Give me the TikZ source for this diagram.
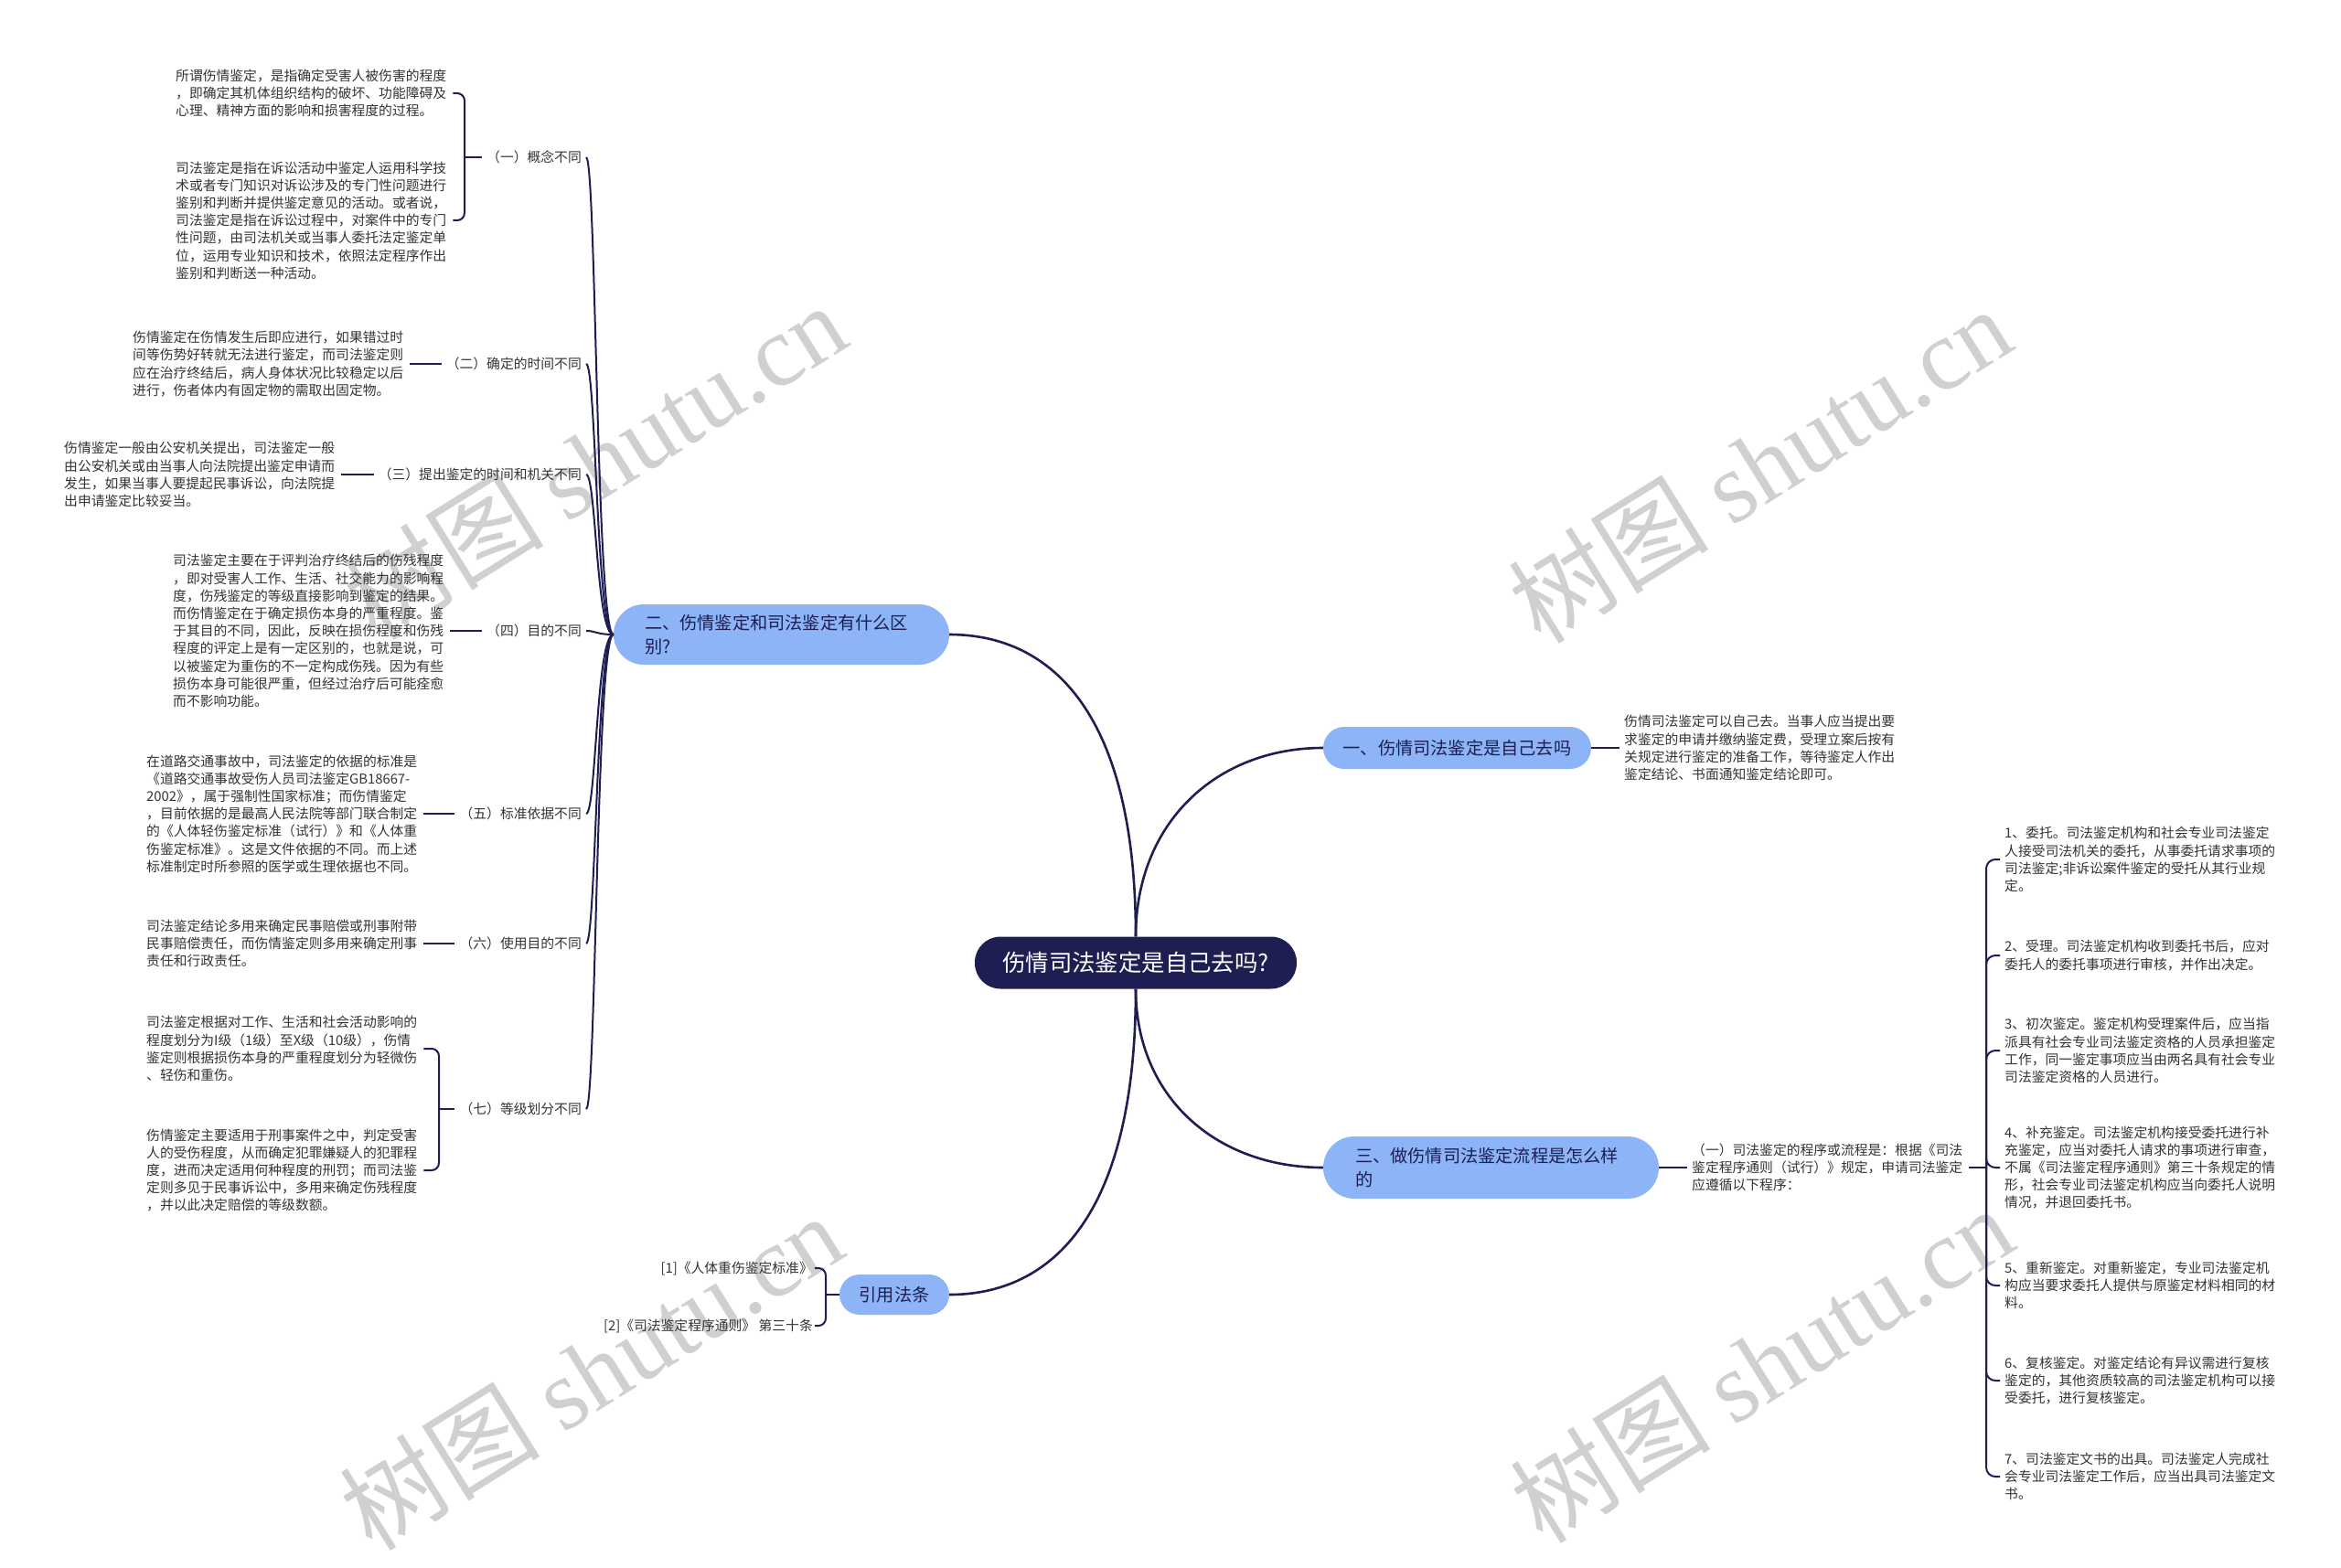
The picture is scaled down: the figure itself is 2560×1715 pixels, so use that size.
\documentclass[tikz,border=0pt]{standalone}
\usepackage{fontspec}
\setmainfont{Noto Sans CJK SC}
\newfontfamily\wmserif{Liberation Serif}
\definecolor{navy}{RGB}{30,30,82}
\definecolor{lblue}{RGB}{140,180,247}
\definecolor{txtgray}{RGB}{51,51,51}
\definecolor{wmgray}{RGB}{208,208,208}
\begin{document}
\begin{tikzpicture}[x=1pt,y=-1pt,
  body/.style={font={\fontsize{14.8}{19.2}\selectfont}, text=txtgray, align=left, text width=298pt, inner xsep=5pt, inner ysep=2pt},
  lab/.style={font={\fontsize{14.8}{19.2}\selectfont}, text=txtgray, inner xsep=5pt, inner ysep=2pt},
  lvone/.style={fill=lblue, text=navy, font={\fontsize{19.2}{26}\selectfont}, inner ysep=2pt},
  rootnode/.style={fill=navy, text=white, rounded corners=28pt, minimum width=352pt, minimum height=57pt, font={\fontsize{25.4}{30}\selectfont}},
  wmark/.style={text=wmgray, font={\fontsize{110}{110}\selectfont}, rotate=32},
  mainedge/.style={draw=navy, line width=2.6pt},
  subedge/.style={draw=navy, line width=2pt}]
\useasboundingbox (0,0) rectangle (2560,1715);
\fill[white] (0,0) rectangle (2560,1715);

% watermarks
\node[wmark] (w1) at (650,504) {树图 {\wmserif shutu.cn}};
\node[wmark] (w2) at (1924,508) {树图 {\wmserif shutu.cn}};
\node[wmark] (w3) at (646,1500) {树图 {\wmserif shutu.cn}};
\node[wmark] (w4) at (1926,1492) {树图 {\wmserif shutu.cn}};

% main nodes
\node[rootnode] (n0) at (1242,1053) {伤情司法鉴定是自己去吗?};
\node[lvone, rounded corners=33pt, minimum width=367pt, minimum height=66pt, text width=299pt, inner xsep=34pt, align=left] (n2) at (854.5,694) {二、伤情鉴定和司法鉴定有什么区\\别?};
\node[lvone, rounded corners=23pt, minimum width=293pt, minimum height=46pt] (n1) at (1593.5,818) {一、伤情司法鉴定是自己去吗};
\node[lvone, rounded corners=34pt, minimum width=367pt, minimum height=68pt, text width=297pt, inner xsep=35pt, align=left] (n3) at (1630.5,1277) {三、做伤情司法鉴定流程是怎么样\\的};
\node[lvone, rounded corners=22pt, minimum width=120pt, minimum height=44pt] (n4) at (978,1416) {引用法条};

% left labels
\node[lab, anchor=east] (L1) at (641,172) {（一）概念不同};
\node[lab, anchor=east] (L2) at (641,398) {（二）确定的时间不同};
\node[lab, anchor=east] (L3) at (641,519) {（三）提出鉴定的时间和机关不同};
\node[lab, anchor=east] (L4) at (641,690) {（四）目的不同};
\node[lab, anchor=east] (L5) at (641,890) {（五）标准依据不同};
\node[lab, anchor=east] (L6) at (641,1032) {（六）使用目的不同};
\node[lab, anchor=east] (L7) at (641,1213) {（七）等级划分不同};

% left texts
\node[body, anchor=west] (d1a) at (187,102) {所谓伤情鉴定，是指确定受害人被伤害的程度\\，即确定其机体组织结构的破坏、功能障碍及\\心理、精神方面的影响和损害程度的过程。};
\node[body, anchor=west] (d1b) at (187,241) {司法鉴定是指在诉讼活动中鉴定人运用科学技\\术或者专门知识对诉讼涉及的专门性问题进行\\鉴别和判断并提供鉴定意见的活动。或者说，\\司法鉴定是指在诉讼过程中，对案件中的专门\\性问题，由司法机关或当事人委托法定鉴定单\\位，运用专业知识和技术，依照法定程序作出\\鉴别和判断送一种活动。};
\node[body, anchor=west] (d2) at (140,398) {伤情鉴定在伤情发生后即应进行，如果错过时\\间等伤势好转就无法进行鉴定，而司法鉴定则\\应在治疗终结后，病人身体状况比较稳定以后\\进行，伤者体内有固定物的需取出固定物。};
\node[body, anchor=west] (d3) at (65,519) {伤情鉴定一般由公安机关提出，司法鉴定一般\\由公安机关或由当事人向法院提出鉴定申请而\\发生，如果当事人要提起民事诉讼，向法院提\\出申请鉴定比较妥当。};
\node[body, anchor=west] (d4) at (184,690) {司法鉴定主要在于评判治疗终结后的伤残程度\\，即对受害人工作、生活、社交能力的影响程\\度，伤残鉴定的等级直接影响到鉴定的结果。\\而伤情鉴定在于确定损伤本身的严重程度。鉴\\于其目的不同，因此，反映在损伤程度和伤残\\程度的评定上是有一定区别的，也就是说，可\\以被鉴定为重伤的不一定构成伤残。因为有些\\损伤本身可能很严重，但经过治疗后可能痊愈\\而不影响功能。};
\node[body, anchor=west] (d5) at (155,890) {在道路交通事故中，司法鉴定的依据的标准是\\《道路交通事故受伤人员司法鉴定GB18667-\\2002》，属于强制性国家标准；而伤情鉴定\\，目前依据的是最高人民法院等部门联合制定\\的《人体轻伤鉴定标准（试行）》和《人体重\\伤鉴定标准》。这是文件依据的不同。而上述\\标准制定时所参照的医学或生理依据也不同。};
\node[body, anchor=west] (d6) at (155,1032) {司法鉴定结论多用来确定民事赔偿或刑事附带\\民事赔偿责任，而伤情鉴定则多用来确定刑事\\责任和行政责任。};
\node[body, anchor=west] (d7a) at (155,1147) {司法鉴定根据对工作、生活和社会活动影响的\\程度划分为I级（1级）至X级（10级），伤情\\鉴定则根据损伤本身的严重程度划分为轻微伤\\、轻伤和重伤。};
\node[body, anchor=west] (d7b) at (155,1280) {伤情鉴定主要适用于刑事案件之中，判定受害\\人的受伤程度，从而确定犯罪嫌疑人的犯罪程\\度，进而决定适用何种程度的刑罚；而司法鉴\\定则多见于民事诉讼中，多用来确定伤残程度\\，并以此决定赔偿的等级数额。};

% right texts
\node[body, anchor=west] (r1) at (1771,818) {伤情司法鉴定可以自己去。当事人应当提出要\\求鉴定的申请并缴纳鉴定费，受理立案后按有\\关规定进行鉴定的准备工作，等待鉴定人作出\\鉴定结论、书面通知鉴定结论即可。};
\node[body, anchor=west] (r3) at (1845,1277) {（一）司法鉴定的程序或流程是：根据《司法\\鉴定程序通则（试行）》规定，申请司法鉴定\\应遵循以下程序：};
\node[body, anchor=west] (s1) at (2187,940) {1、委托。司法鉴定机构和社会专业司法鉴定\\人接受司法机关的委托，从事委托请求事项的\\司法鉴定;非诉讼案件鉴定的受托从其行业规\\定。};
\node[body, anchor=west] (s2) at (2187,1045) {2、受理。司法鉴定机构收到委托书后，应对\\委托人的委托事项进行审核，并作出决定。};
\node[body, anchor=west] (s3) at (2187,1149) {3、初次鉴定。鉴定机构受理案件后，应当指\\派具有社会专业司法鉴定资格的人员承担鉴定\\工作，同一鉴定事项应当由两名具有社会专业\\司法鉴定资格的人员进行。};
\node[body, anchor=west] (s4) at (2187,1277) {4、补充鉴定。司法鉴定机构接受委托进行补\\充鉴定，应当对委托人请求的事项进行审查，\\不属《司法鉴定程序通则》第三十条规定的情\\形，社会专业司法鉴定机构应当向委托人说明\\情况，并退回委托书。};
\node[body, anchor=west] (s5) at (2187,1406) {5、重新鉴定。对重新鉴定，专业司法鉴定机\\构应当要求委托人提供与原鉴定材料相同的材\\料。};
\node[body, anchor=west] (s6) at (2187,1510) {6、复核鉴定。对鉴定结论有异议需进行复核\\鉴定的，其他资质较高的司法鉴定机构可以接\\受委托，进行复核鉴定。};
\node[body, anchor=west] (s7) at (2187,1615) {7、司法鉴定文书的出具。司法鉴定人完成社\\会专业司法鉴定工作后，应当出具司法鉴定文\\书。};

% references
\node[lab, anchor=east, inner xsep=2pt] (c1) at (891,1387) {[1]《人体重伤鉴定标准》};
\node[lab, anchor=east, inner xsep=2pt] (c2) at (891,1450) {[2]《司法鉴定程序通则》 第三十条};

% main edges
\draw[mainedge] (n0.north) .. controls (1242,780) and (1150,694) .. (n2.east);
\draw[mainedge] (n0.north) .. controls (1242,900) and (1330,818) .. (n1.west);
\draw[mainedge] (n0.south) .. controls (1242,1200) and (1330,1277) .. (n3.west);
\draw[mainedge] (n0.south) .. controls (1242,1330) and (1150,1416) .. (n4.east);

% left trunk
\foreach \L/\y in {L1/172, L2/398, L3/519, L4/690, L5/890, L6/1032, L7/1213}
  \draw[subedge] (n2.west) .. controls (652,694) and (652,\y) .. (\L.east);

\draw[subedge] (d2.east) -- (L2.west);
\draw[subedge] (d3.east) -- (L3.west);
\draw[subedge] (d4.east) -- (L4.west);
\draw[subedge] (d5.east) -- (L5.west);
\draw[subedge] (d6.east) -- (L6.west);

\draw[subedge] (L1.west) -- (508,172);
\draw[subedge, rounded corners=8pt] (508,172) |- (d1a.east);
\draw[subedge, rounded corners=8pt] (508,172) |- (d1b.east);

\draw[subedge] (L7.west) -- (480,1213);
\draw[subedge, rounded corners=8pt] (480,1213) |- (d7a.east);
\draw[subedge, rounded corners=8pt] (480,1213) |- (d7b.east);

% right side
\draw[subedge] (n1.east) -- (r1.west);
\draw[subedge] (n3.east) -- (r3.west);
\draw[subedge] (r3.east) -- (2172,1277);
\foreach \s in {s1,s2,s3,s4,s5,s6,s7}
  \draw[subedge, rounded corners=10pt] (2172,1277) |- (\s.west);

% references
\draw[subedge] (n4.west) -- (903,1416);
\draw[subedge, rounded corners=8pt] (903,1416) |- (c1.east);
\draw[subedge, rounded corners=8pt] (903,1416) |- (c2.east);
\end{tikzpicture}
\end{document}
